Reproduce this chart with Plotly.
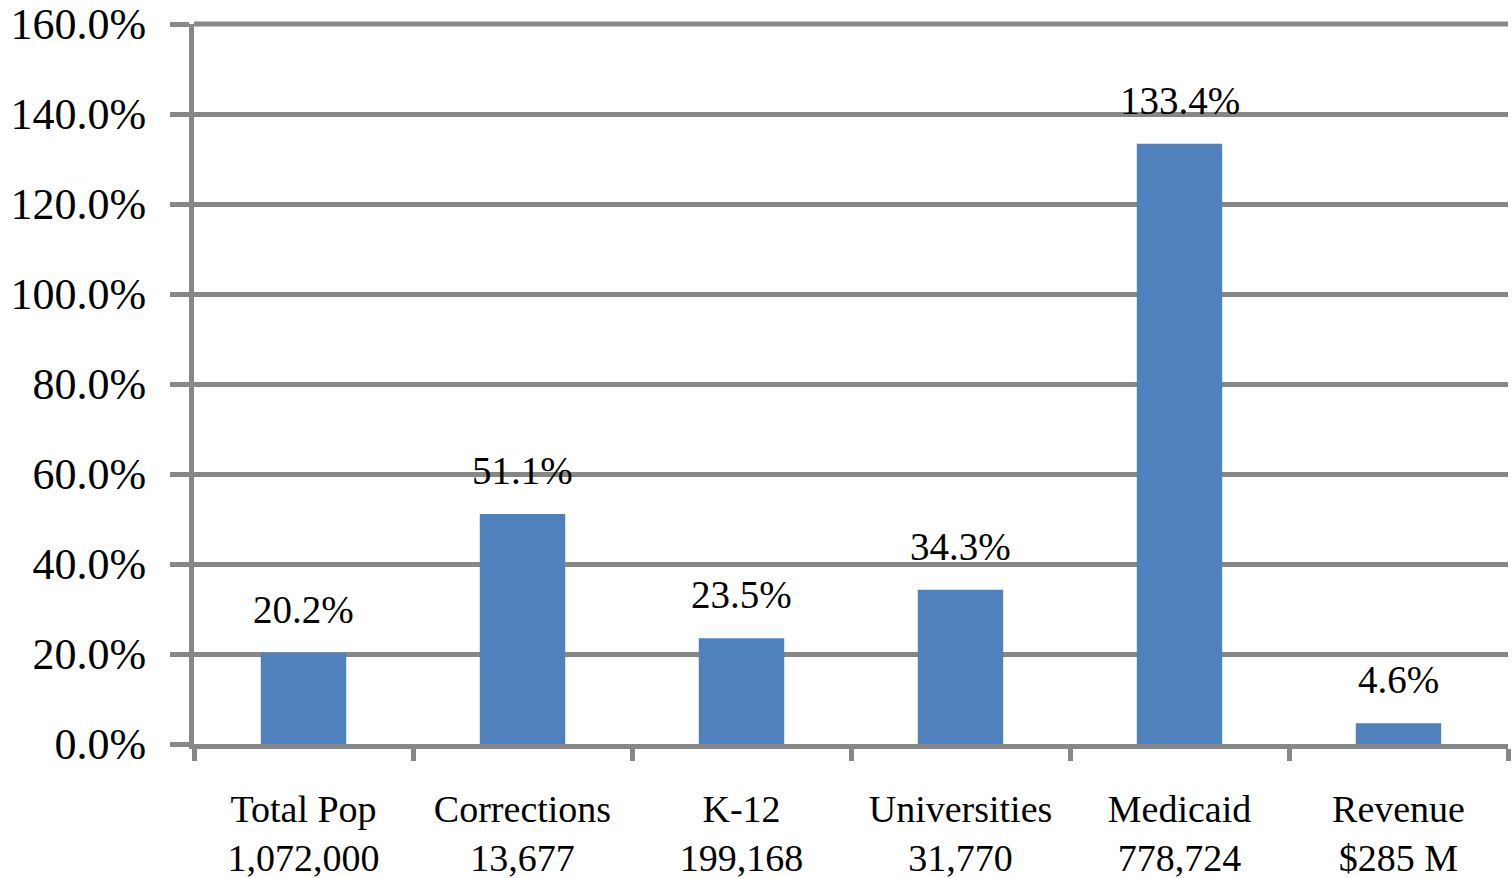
import plotly.graph_objects as go

categories = ["Total Pop", "Corrections", "K-12", "Universities", "Medicaid", "Revenue"]
counts = ["1,072,000", "13,677", "199,168", "31,770", "778,724", "$285 M"]
values = [20.2, 51.1, 23.5, 34.3, 133.4, 4.6]
y_ticks = [0, 20, 40, 60, 80, 100, 120, 140, 160]

GRAY = "#878787"
BLUE = "#4F81BD"
FONT = "Liberation Serif"

fig = go.Figure()
fig.add_trace(go.Bar(
    x=categories, y=values, width=0.39,
    marker=dict(color=BLUE, line=dict(width=0)),
    hoverinfo="skip",
))

for c, v in zip(categories, values):
    fig.add_annotation(x=c, y=v, text=f"{v:.1f}%", showarrow=False,
                       yanchor="bottom", yshift=20,
                       font=dict(family=FONT, size=39, color="black"))

# top gridline at the upper edge of the y range (Plotly hides the grid line on the plot edge)
fig.add_shape(type="line", xref="paper", yref="paper", x0=0, x1=1,
              y0=1, y1=1, layer="below",
              line=dict(color=GRAY, width=5))

fig.update_layout(
    width=1512, height=878,
    margin=dict(l=194, r=4, t=24, b=134, autoexpand=False),
    paper_bgcolor="white", plot_bgcolor="white",
    showlegend=False,
    font=dict(family=FONT, size=40, color="black"),
)
fig.update_xaxes(
    type="category", automargin=False,
    tickmode="array", tickvals=categories,
    ticktext=[f"{c}<br>{n}" for c, n in zip(categories, counts)],
    tickson="boundaries", ticks="outside", ticklen=12, tickwidth=5, tickcolor=GRAY,
    showline=True, linewidth=5, linecolor=GRAY,
    showgrid=False, ticklabelstandoff=27,
    tickfont=dict(family=FONT, size=38, color="black"),
)
fig.update_yaxes(
    range=[y_ticks[0], y_ticks[-1]], automargin=False, tickmode="array", tickvals=y_ticks,
    ticktext=[f"{t:.1f}%" for t in y_ticks],
    ticks="outside", ticklen=19, tickwidth=5, tickcolor=GRAY,
    showline=True, linewidth=5, linecolor=GRAY,
    showgrid=True, gridwidth=5, gridcolor=GRAY, zeroline=False,
    ticklabelstandoff=15, ticklabeloverflow="allow",
    tickfont=dict(family=FONT, size=44, color="black"),
)

fig.write_html("out.html", config={"displayModeBar": False},
               post_script="document.body.style.margin='0px';document.body.style.overflow='hidden';")
